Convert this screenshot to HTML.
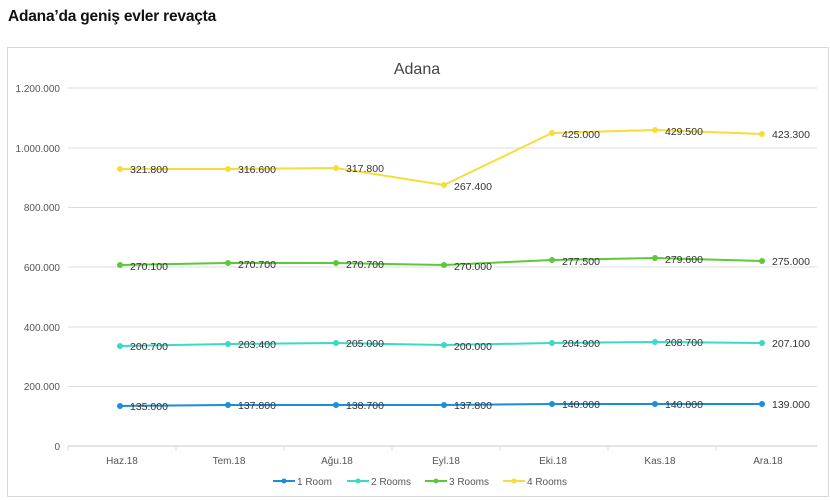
<!DOCTYPE html>
<html><head><meta charset="utf-8"><style>
body{margin:0;background:#fff;width:830px;height:500px;overflow:hidden}
svg{display:block}
</style></head><body>
<svg width="830" height="500" xmlns="http://www.w3.org/2000/svg" font-family="Liberation Sans, sans-serif">
<text x="8" y="21" font-size="15.5" font-weight="bold" fill="#111" letter-spacing="-0.2">Adana’da geniş evler revaçta</text>
<rect x="7.5" y="47.5" width="821" height="449" fill="#fff" stroke="#d8d8d8"/>
<text x="417" y="74" font-size="16" fill="#444" text-anchor="middle">Adana</text>
<g stroke="#dcdcdc" stroke-width="1">
<line x1="68" y1="88" x2="817" y2="88"/><line x1="68" y1="148" x2="817" y2="148"/>
<line x1="68" y1="207.5" x2="817" y2="207.5"/><line x1="68" y1="267" x2="817" y2="267"/>
<line x1="68" y1="327" x2="817" y2="327"/><line x1="68" y1="386.5" x2="817" y2="386.5"/>
<line x1="68" y1="446" x2="817" y2="446" stroke="#c8c8c8"/>
<line x1="68" y1="446" x2="68" y2="451"/><line x1="176" y1="446" x2="176" y2="451"/><line x1="284" y1="446" x2="284" y2="451"/><line x1="392" y1="446" x2="392" y2="451"/><line x1="500" y1="446" x2="500" y2="451"/><line x1="608" y1="446" x2="608" y2="451"/><line x1="716" y1="446" x2="716" y2="451"/>
</g>
<g font-size="10" fill="#555" text-anchor="end">
<text x="60" y="92">1.200.000</text><text x="60" y="152">1.000.000</text><text x="60" y="211">800.000</text><text x="60" y="271">600.000</text><text x="60" y="331">400.000</text><text x="60" y="390">200.000</text><text x="60" y="450">0</text>
</g>
<g font-size="10" fill="#555" text-anchor="middle">
<text x="122" y="464">Haz.18</text><text x="229" y="464">Tem.18</text><text x="337" y="464">Ağu.18</text><text x="446" y="464">Eyl.18</text><text x="553" y="464">Eki.18</text><text x="660" y="464">Kas.18</text><text x="768" y="464">Ara.18</text>
</g>
<g fill="none" stroke-width="2">
<polyline stroke="#f5dd3a" points="120,169 228,169 336,168 444,185 552,133 655,130 762,134"/>
<polyline stroke="#5dc83a" points="120,265 228,263 336,263 444,265 552,260 655,258 762,261"/>
<polyline stroke="#3dd8c8" points="120,346 228,344 336,343 444,345 552,343 655,342 762,343"/>
<polyline stroke="#1a8fd8" points="120,406 228,405 336,405 444,405 552,404 655,404 762,404"/>
</g>
<g fill="#f5dd3a"><circle cx="120" cy="169" r="3"/><circle cx="228" cy="169" r="3"/><circle cx="336" cy="168" r="3"/><circle cx="444" cy="185" r="3"/><circle cx="552" cy="133" r="3"/><circle cx="655" cy="130" r="3"/><circle cx="762" cy="134" r="3"/></g>
<g fill="#5dc83a"><circle cx="120" cy="265" r="3"/><circle cx="228" cy="263" r="3"/><circle cx="336" cy="263" r="3"/><circle cx="444" cy="265" r="3"/><circle cx="552" cy="260" r="3"/><circle cx="655" cy="258" r="3"/><circle cx="762" cy="261" r="3"/></g>
<g fill="#3dd8c8"><circle cx="120" cy="346" r="3"/><circle cx="228" cy="344" r="3"/><circle cx="336" cy="343" r="3"/><circle cx="444" cy="345" r="3"/><circle cx="552" cy="343" r="3"/><circle cx="655" cy="342" r="3"/><circle cx="762" cy="343" r="3"/></g>
<g fill="#1a8fd8"><circle cx="120" cy="406" r="3"/><circle cx="228" cy="405" r="3"/><circle cx="336" cy="405" r="3"/><circle cx="444" cy="405" r="3"/><circle cx="552" cy="404" r="3"/><circle cx="655" cy="404" r="3"/><circle cx="762" cy="404" r="3"/></g>
<g font-size="10.5" fill="#333">
<text x="130" y="173">321.800</text><text x="238" y="173">316.600</text><text x="346" y="172">317.800</text><text x="454" y="190">267.400</text><text x="562" y="138">425.000</text><text x="665" y="135">429.500</text><text x="772" y="138">423.300</text>
<text x="130" y="270">270.100</text><text x="238" y="268">270.700</text><text x="346" y="268">270.700</text><text x="454" y="270">270.000</text><text x="562" y="265">277.500</text><text x="665" y="263">279.600</text><text x="772" y="265">275.000</text>
<text x="130" y="350">200.700</text><text x="238" y="348">203.400</text><text x="346" y="347">205.000</text><text x="454" y="350">200.000</text><text x="562" y="347">204.900</text><text x="665" y="346">208.700</text><text x="772" y="347">207.100</text>
<text x="130" y="410">135.000</text><text x="238" y="409">137.800</text><text x="346" y="409">138.700</text><text x="454" y="409">137.800</text><text x="562" y="408">140.000</text><text x="665" y="408">140.000</text><text x="772" y="408">139.000</text>
</g>
<g font-size="10" fill="#555">
<line x1="273" y1="481" x2="295" y2="481" stroke="#1a8fd8" stroke-width="2"/><circle cx="284" cy="481" r="2.5" fill="#1a8fd8"/><text x="297" y="485">1 Room</text>
<line x1="347" y1="481" x2="369" y2="481" stroke="#3dd8c8" stroke-width="2"/><circle cx="358" cy="481" r="2.5" fill="#3dd8c8"/><text x="371" y="485">2 Rooms</text>
<line x1="425" y1="481" x2="447" y2="481" stroke="#5dc83a" stroke-width="2"/><circle cx="436" cy="481" r="2.5" fill="#5dc83a"/><text x="449" y="485">3 Rooms</text>
<line x1="503" y1="481" x2="525" y2="481" stroke="#f5dd3a" stroke-width="2"/><circle cx="514" cy="481" r="2.5" fill="#f5dd3a"/><text x="527" y="485">4 Rooms</text>
</g>
</svg>
</body></html>
